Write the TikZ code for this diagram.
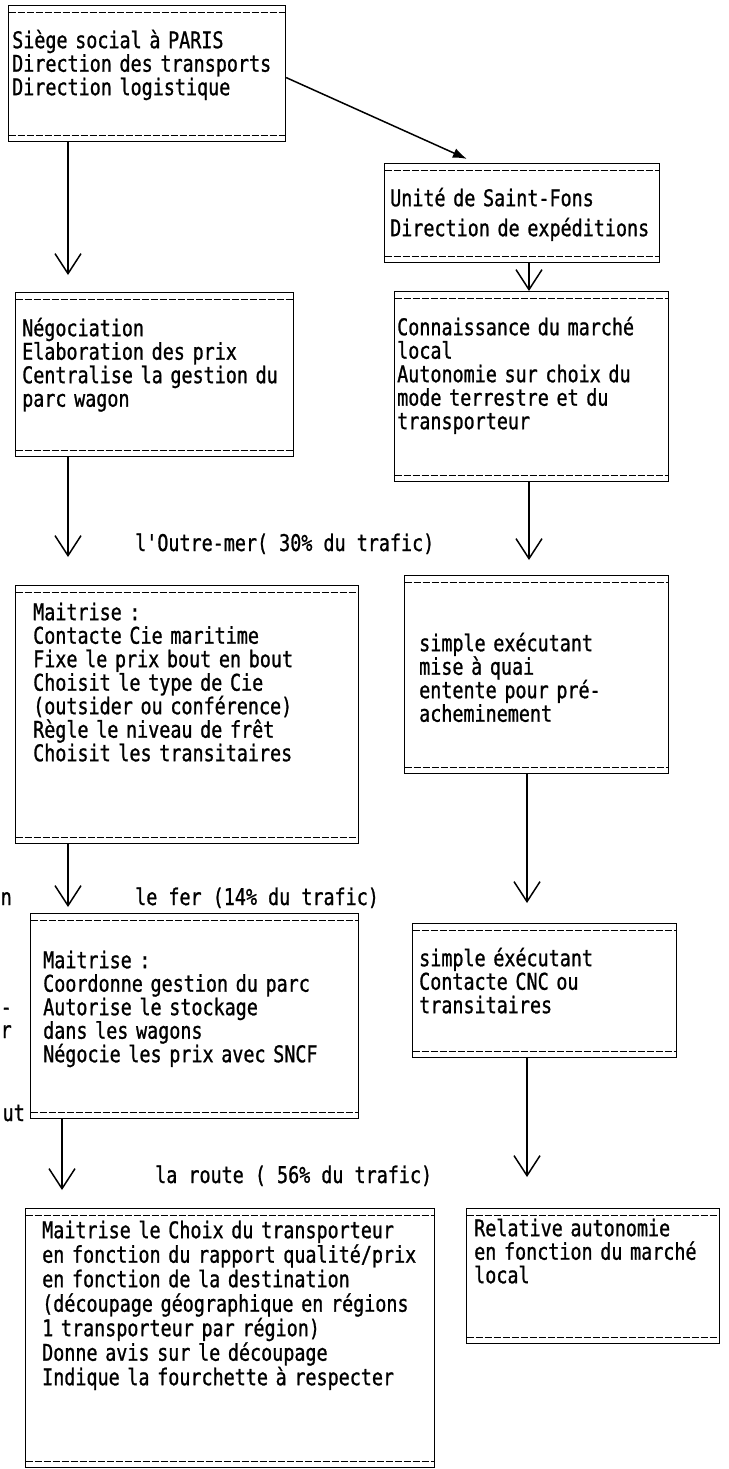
\documentclass[tikz,border=0pt]{standalone}
\usepackage{fontspec}
\newfontfamily\mono[FakeStretch=0.8,FakeBold=1]{DejaVu Sans Mono}
\usetikzlibrary{arrows.meta,calc}
\newcommand\firstln{\vrule height 20pt depth 0pt width 0pt\relax}
\begin{document}
\begin{tikzpicture}[x=1pt,y=-1pt,
  box/.style={draw, line width=1.2pt, anchor=north west, inner sep=0pt,
    path picture={
      \draw[line width=1pt, dash pattern=on 7pt off 2pt]
        ([yshift=-7pt]path picture bounding box.north west) -- ([yshift=-7pt]path picture bounding box.north east);
      \draw[line width=1pt, dash pattern=on 7pt off 2pt]
        ([yshift=6pt]path picture bounding box.south west) -- ([yshift=6pt]path picture bounding box.south east);}},
  txt/.style={anchor=north west, inner sep=0pt, align=left, text width=440pt,
    font=\mono\fontsize{23}{#1}\selectfont,
    execute at begin node={\lineskiplimit=-50pt\relax\parindent=0pt\relax}},
  txt/.default=23.5,
  lbl/.style={anchor=base west, inner sep=0pt, font=\mono\fontsize{23}{23.5}\selectfont},
  frag/.style={anchor=base east, inner sep=0pt, font=\mono\fontsize{23}{23.5}\selectfont},
  conn/.style={line width=1.5pt, -{Straight Barb[length=20pt,width=26pt,line width=1.5pt]}},
  diag/.style={line width=1.5pt, -{Latex[length=14pt,width=10pt]}}]
\useasboundingbox (0,0) rectangle (728,1469);

% boxes
\node[box, minimum width=277pt, minimum height=136pt] (A) at (8,5) {};
\node[box, minimum width=275pt, minimum height=99pt]  (U) at (384,163) {};
\node[box, minimum width=278pt, minimum height=164pt] (B) at (15,292) {};
\node[box, minimum width=274pt, minimum height=190pt] (K) at (394,291) {};
\node[box, minimum width=343pt, minimum height=258pt] (C) at (15,585) {};
\node[box, minimum width=264pt, minimum height=198pt] (Q) at (404,575) {};
\node[box, minimum width=328pt, minimum height=205pt] (D) at (30,913) {};
\node[box, minimum width=264pt, minimum height=134pt] (S) at (412,923) {};
\node[box, minimum width=253pt, minimum height=135pt] (R) at (466,1208) {};
\node[box, minimum width=409pt, minimum height=259pt] (E) at (25,1208) {};

% texts
\node[txt] (tA) at (12,28) {\firstln Siège social à PARIS\\Direction des transports\\Direction logistique};
\node[txt=30] (tU) at (390,186) {\firstln Unité de Saint-Fons\\Direction de expéditions};
\node[txt] (tB) at (22,316) {\firstln Négociation\\Elaboration des prix\\Centralise la gestion du\\parc wagon};
\node[txt] (tK) at (397,315) {\firstln Connaissance du marché\\local\\Autonomie sur choix du\\mode terrestre et du\\transporteur};
\node[txt] (tC) at (33,600) {\firstln Maitrise :\\Contacte Cie maritime\\Fixe le prix bout en bout\\Choisit le type de Cie\\(outsider ou conférence)\\Règle le niveau de frêt\\Choisit les transitaires};
\node[txt] (tQ) at (419,631) {\firstln simple exécutant\\mise à quai\\entente pour pré-\\acheminement};
\node[txt] (tD) at (43,948) {\firstln Maitrise :\\Coordonne gestion du parc\\Autorise le stockage\\dans les wagons\\Négocie les prix avec SNCF};
\node[txt] (tS) at (419,946) {\firstln simple éxécutant\\Contacte CNC ou\\transitaires};
\node[txt] (tR) at (474,1216) {\firstln Relative autonomie\\en fonction du marché\\local};
\node[txt=24.5] (tE) at (42,1218) {\firstln Maitrise le Choix du transporteur\\en fonction du rapport qualité/prix\\en fonction de la destination\\(découpage géographique en régions\\1 transporteur par région)\\Donne avis sur le découpage\\Indique la fourchette à respecter};

% labels
\node[lbl] (l1) at (135,551) {l'Outre-mer( 30\% du trafic)};
\node[lbl] (l2) at (135,905) {le fer (14\% du trafic)};
\node[lbl] (l3) at (155,1183) {la route ( 56\% du trafic)};

% fragments at the left edge
\node[frag] (f1) at (12,905) {n};
\node[frag] (f2) at (12,1015) {-};
\node[frag] (f3) at (12,1038) {r};
\node[frag] (f4) at (25,1121) {ut};

% connector columns
\coordinate (xL) at (68,0);
\coordinate (xL2) at (62,0);
\coordinate (xR) at (529,0);
\coordinate (xR2) at (527,0);

\draw[diag, shorten >=10pt] ([yshift=-4pt]A.east) -- ($(U.north west)+(92,0)$);
\draw[conn, shorten >=17pt] (A.south -| xL) -- (B.north -| xL);
\draw[conn, shorten >=28pt] (B.south -| xL) -- (C.north -| xL);
\draw[conn, shorten >=6pt]  (C.south -| xL) -- (D.north -| xL);
\draw[conn, shorten >=18pt] (D.south -| xL2) -- (E.north -| xL2);
\draw[conn] (U.south -| xR) -- (K.north -| xR);
\draw[conn, shorten >=15pt] (K.south -| xR) -- (Q.north -| xR);
\draw[conn, shorten >=20pt] (Q.south -| xR2) -- (S.north -| xR2);
\draw[conn, shorten >=31pt] (S.south -| xR2) -- (R.north -| xR2);
\end{tikzpicture}
\end{document}
